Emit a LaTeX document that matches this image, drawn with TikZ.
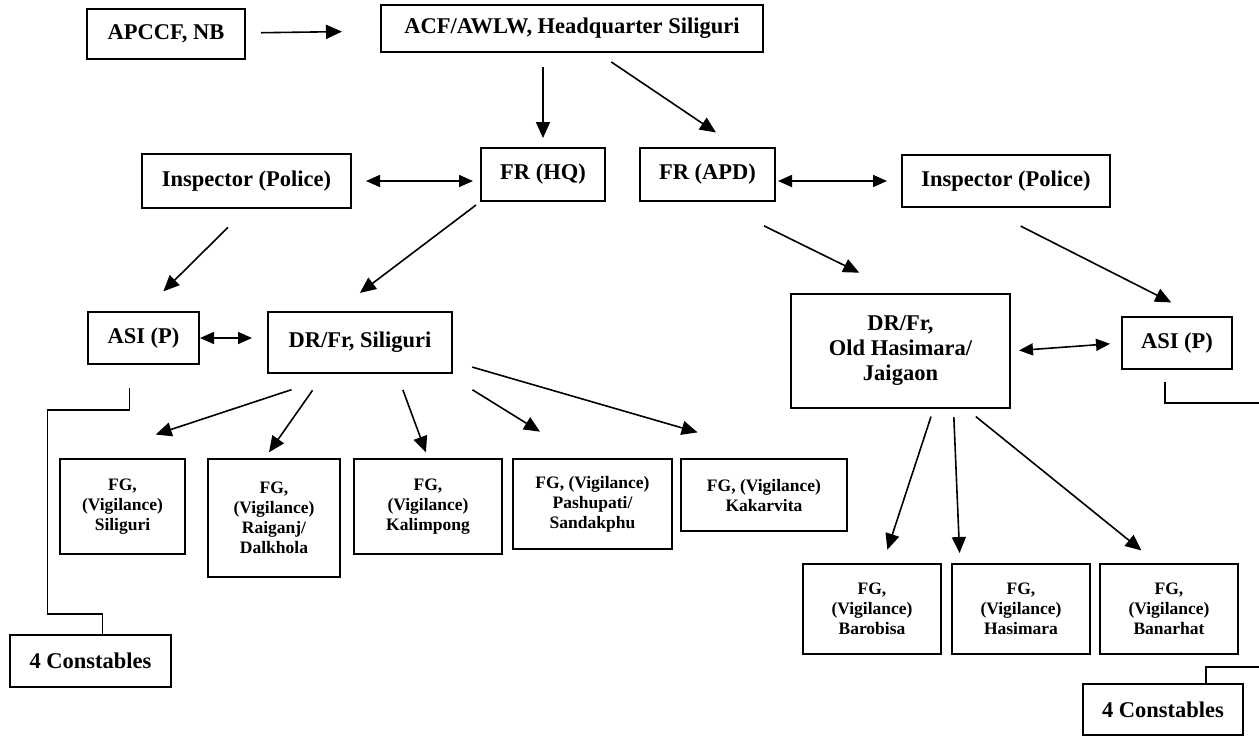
\documentclass[tikz,border=0pt]{standalone}
\usepackage{fontspec}
\setmainfont{Liberation Serif}
\usepackage{tikz}
\usetikzlibrary{arrows.meta}

\begin{document}
\begin{tikzpicture}[
  x=0.5pt, y=-0.5pt,
  box/.style={draw, line width=1pt, align=center, inner sep=0pt, font=\fontsize{11.25}{12.5}\selectfont\bfseries},
  fgbox/.style={box, font=\fontsize{8.75}{10}\selectfont\bfseries},
  sz/.style 2 args={minimum width=#1*0.5pt, minimum height=#2*0.5pt},
  arr/.style={-{Triangle[length=8pt, width=7pt]}, line width=0.8pt},
  dbl/.style={{Triangle[length=7pt, width=6pt]}-{Triangle[length=7pt, width=6pt]}, line width=0.8pt},
  link/.style={line width=0.8pt}
]
  \useasboundingbox (0,0) rectangle (1259,736);

  \node[box, sz={158}{50}] (apccf) at (166,34) {APCCF, NB};
  \node[box, sz={382}{47}] (acf) at (572,28.5) {ACF/AWLW, Headquarter Siliguri};
  \node[box, sz={209}{54}] (inspL) at (246.5,181) {Inspector (Police)};
  \node[box, sz={124}{53}] (frhq) at (543,174.5) {FR (HQ)};
  \node[box, sz={135}{53}] (frapd) at (707.5,174.5) {FR (APD)};
  \node[box, sz={208}{52}] (inspR) at (1006,181) {Inspector (Police)};
  \node[box, sz={111}{52}] (asiL) at (143.5,338) {ASI (P)};
  \node[box, sz={184}{61}] (drsil) at (360,342.5) {DR/Fr, Siliguri};
  \node[box, sz={219}{114}] (drhas) at (900.5,351) {DR/Fr,\\Old Hasimara/\\Jaigaon};
  \node[box, sz={110}{52}] (asiR) at (1177,343) {ASI (P)};

  \node[fgbox, sz={125}{95}] (fg1) at (122.5,506.5) {FG,\\(Vigilance)\\Siliguri};
  \node[fgbox, sz={132}{118}] (fg2) at (274,518) {FG,\\(Vigilance)\\Raiganj/\\Dalkhola};
  \node[fgbox, sz={148}{95}] (fg3) at (428,506.5) {FG,\\(Vigilance)\\Kalimpong};
  \node[fgbox, sz={159}{90}] (fg4) at (592.5,504) {FG, (Vigilance)\\Pashupati/\\Sandakphu};
  \node[fgbox, sz={166}{72}] (fg5) at (764,495) {FG, (Vigilance)\\Kakarvita};
  \node[fgbox, sz={138}{90}] (fg6) at (872,609) {FG,\\(Vigilance)\\Barobisa};
  \node[fgbox, sz={138}{90}] (fg7) at (1021,609) {FG,\\(Vigilance)\\Hasimara};
  \node[fgbox, sz={138}{90}] (fg8) at (1169,609) {FG,\\(Vigilance)\\Banarhat};

  \node[box, sz={161}{52}] (conL) at (90.5,661) {4 Constables};
  \node[box, sz={160}{51}] (conR) at (1163,709.5) {4 Constables};

  \coordinate (rimA) at (1262,403);
  \coordinate (rimB) at (1262,667);

  \draw[arr, shorten <=7.5pt, shorten >=19pt] (apccf) -- (acf);
  \draw[arr, shorten <=7pt, shorten >=4.5pt] (frhq.north |- acf.south) -- (frhq.north);
  \draw[arr, shorten <=8pt, shorten >=13pt] ([xshift=13pt]acf.south) -- ([xshift=15pt]frapd.north);
  \draw[dbl, shorten <=7pt, shorten >=3.5pt] (inspL.east) -- (inspL.east -| frhq.west);
  \draw[dbl, shorten <=1pt, shorten >=7pt] (inspR.west -| frapd.east) -- (inspR.west);
  \draw[arr, shorten <=13pt, shorten >=14pt] (inspL.south) -- (asiL.north);
  \draw[arr, shorten <=2.5pt, shorten >=15pt] (frhq.south west) -- ([xshift=-12pt]drsil.north);
  \draw[arr, shorten <=27pt, shorten >=23pt] ([xshift=4pt]frapd.south) -- (drhas.north);
  \draw[arr, shorten <=20pt, shorten >=15pt] ([xshift=-10.5pt]inspR.south) -- ([xshift=10.5pt]asiR.north);
  \draw[dbl, shorten >=7.5pt] (asiL.east) -- (asiL.east -| drsil.west);
  \draw[dbl, shorten <=4pt, shorten >=5.5pt] (drhas.east) -- (asiR.west);

  \draw[arr, shorten <=25pt, shorten >=37.5pt] ([xshift=-10.5pt]drsil.south) -- ([xshift=-19pt]fg1.north);
  \draw[arr, shorten <=10pt, shorten >=3.5pt] ([xshift=-18pt]drsil.south) -- ([xshift=-4.5pt]fg2.north);
  \draw[arr, shorten <=8.5pt, shorten >=3pt] ([xshift=18.5pt]drsil.south) -- (fg3.north);
  \draw[arr, shorten <=15pt, shorten >=25pt] ([xshift=-3pt]drsil.south east) -- ([xshift=-5pt]fg4.north);
  \draw[arr, shorten <=10pt, shorten >=46pt] ([yshift=-9.5pt]drsil.east) -- ([xshift=11pt]fg5.north);

  \draw[arr, shorten <=4pt, shorten >=7pt] ([xshift=16.5pt]drhas.south) -- ([xshift=5.5pt]fg6.north);
  \draw[arr, shorten <=4pt, shorten >=5pt] ([xshift=26.5pt]drhas.south) -- ([xshift=-30.5pt]fg7.north);
  \draw[arr, shorten <=6pt, shorten >=10pt] ([xshift=33pt]drhas.south) -- ([xshift=-6pt]fg8.north);

  \draw[link] ([xshift=-7pt, yshift=-11.5pt]asiL.south) -- ++(0,22) -- ++(-82,0) -- ++(0,204) -| ([xshift=6pt]conL.north);
  \draw[link] ([xshift=-6pt, yshift=-6pt]asiR.south) |- (rimA);
  \draw[link] ([xshift=21.5pt]conR.north) |- (rimB);
\end{tikzpicture}
\end{document}
